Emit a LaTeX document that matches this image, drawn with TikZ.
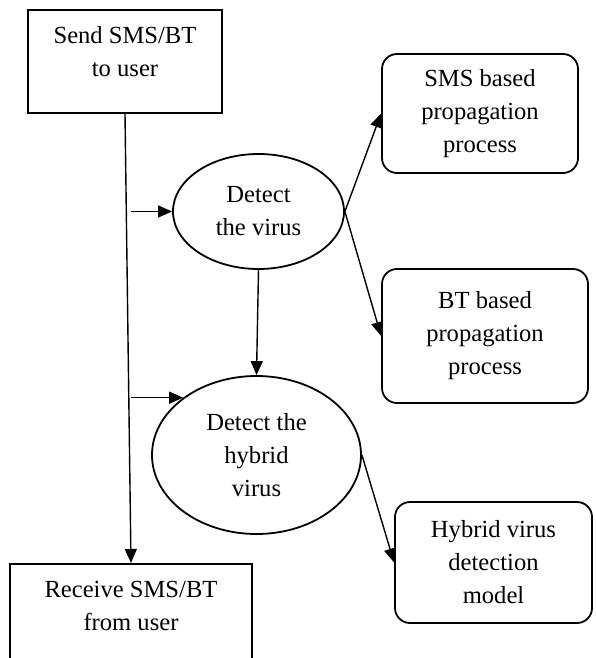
\documentclass[tikz,border=0pt]{standalone}
\usepackage{fontspec}
\setmainfont{Liberation Serif}
\usetikzlibrary{arrows.meta,shapes.geometric}
\tikzset{
  baseText/.style={font=\fontsize{24.6}{33}\selectfont, align=center, line width=1.8pt},
  userBox/.style={baseText, draw, rectangle, anchor=north, inner xsep=0pt, inner ysep=17pt},
  detectNode/.style={baseText, draw, ellipse, inner sep=0pt},
  modelBox/.style={baseText, draw, rectangle, rounded corners=15pt, inner sep=0pt},
  flowArrow/.style={line width=1.4pt, -{Triangle[length=14pt,width=12pt]}}
}
\begin{document}
\begin{tikzpicture}[x=1pt,y=-1pt]
\useasboundingbox (0,0) rectangle (595,658);
\node[userBox, minimum width=194pt, text depth=19pt] (sendUser) at (125,9) {Send SMS/BT\\to user};
\node[userBox, minimum width=242pt, text depth=70pt] (recvUser) at (131,563) {Receive SMS/BT\\from user};
\node[detectNode, minimum width=171pt, minimum height=115pt] (detectVirus) at (258.5,211.5) {Detect\\the virus};
\node[detectNode, minimum width=209pt, minimum height=158pt] (detectHybrid) at (256.5,455) {Detect the\\hybrid\\virus};
\node[modelBox, minimum width=196pt, minimum height=119pt] (smsProc) at (480,113.5) {SMS based\\propagation\\process};
\node[modelBox, minimum width=206pt, minimum height=134pt] (btProc) at (485,336) {BT based\\propagation\\process};
\node[modelBox, minimum width=197pt, minimum height=121pt] (hybridModel) at (493.5,562.5) {Hybrid virus\\detection\\model};
\coordinate (toVirus) at (recvUser.north |- detectVirus.west);
\coordinate (toHybrid) at (recvUser.north |- detectHybrid.142.7);
\draw[flowArrow] (sendUser.south) -- (recvUser.north);
\draw[flowArrow] (toVirus) -- (detectVirus.west);
\draw[flowArrow] (toHybrid) -- (detectHybrid.142.7);
\draw[flowArrow] (detectVirus.south) -- (detectHybrid.north);
\draw[flowArrow] (detectVirus.east) -- (smsProc.west);
\draw[flowArrow] (detectVirus.east) -- (btProc.west);
\draw[flowArrow] (detectHybrid.east) -- (hybridModel.west);
\end{tikzpicture}
\end{document}
